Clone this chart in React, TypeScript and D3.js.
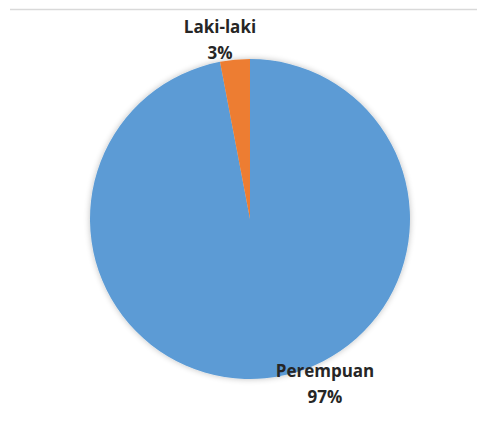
import React from "react";
import * as d3 from "d3";

const categories = ["Perempuan", "Laki-laki"];
const values = [97, 3];
const percentLabels = ["97%", "3%"];
const colors = ["#5b9bd5", "#ed7d31"];

export default function App() {
  const width = 487;
  const height = 425;
  const cx = 250;
  const cy = 219;
  const r = 160;
  const pie = d3.pie<number>().sort(null).value((d) => d);
  const arcs = pie(values);
  const arc = d3.arc<d3.PieArcDatum<number>>().innerRadius(0).outerRadius(r);
  const labelPos = [
    { x: 325, y: 377 },
    { x: 220, y: 33 },
  ];
  return (
    <svg width={width} height={height} style={{ position: "absolute", left: 0, top: 0, background: "#fff" }}>
      <defs>
        <filter id="sh" x="-20%" y="-20%" width="140%" height="140%">
          <feGaussianBlur in="SourceAlpha" stdDeviation="3" />
          <feComponentTransfer>
            <feFuncA type="linear" slope="0.25" />
          </feComponentTransfer>
          <feMerge>
            <feMergeNode />
            <feMergeNode in="SourceGraphic" />
          </feMerge>
        </filter>
      </defs>
      <line x1={10} x2={477} y1={9.5} y2={9.5} stroke="#d9d9d9" strokeWidth={1.5} />
      <g transform={`translate(${cx},${cy})`} filter="url(#sh)">
        {arcs.map((a, i) => (
          <path key={categories[i]} d={arc(a) || ""} fill={colors[i]} />
        ))}
      </g>
      {categories.map((c, i) => (
        <text
          key={c}
          x={labelPos[i].x}
          y={labelPos[i].y}
          textAnchor="middle"
          fontFamily="'Open Sans', sans-serif"
          fontWeight="bold"
          fontSize={17}
          fill="#262626"
        >
          <tspan x={labelPos[i].x} dy={0}>{c}</tspan>
          <tspan x={labelPos[i].x} dy={26}>{percentLabels[i]}</tspan>
        </text>
      ))}
    </svg>
  );
}
